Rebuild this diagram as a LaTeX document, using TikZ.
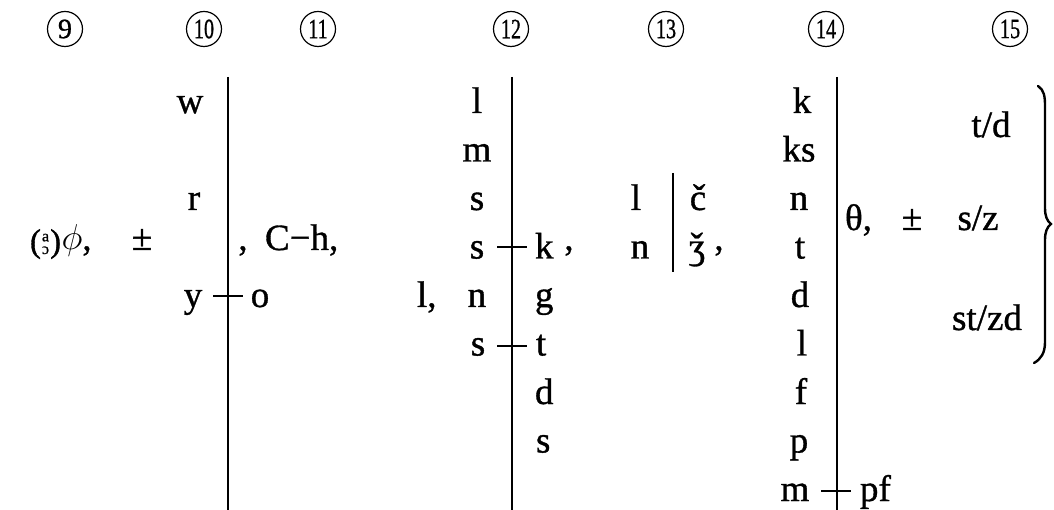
\documentclass[tikz,border=0pt]{standalone}
\usepackage{fix-cm}
\usepackage{fontspec}
\setmainfont{Liberation Serif}[FakeBold=0.9]
\begin{document}
\begin{tikzpicture}[x=1pt,y=-1pt,
  every node/.style={inner sep=0pt, outer sep=0pt},
  lbl/.style={anchor=base, font=\fontsize{37}{42}\selectfont},
  lblw/.style={anchor=base west, font=\fontsize{37}{42}\selectfont},
  num/.style={circle, draw, line width=1.2pt, minimum size=35pt, inner sep=0pt, font=\fontsize{28}{28}\selectfont},
  bar/.style={line width=2.8pt},
  tick/.style={line width=1.8pt},
  bracestyle/.style={line width=2.4pt, line cap=round}]
\useasboundingbox (0,0) rectangle (1054,510);
\fill[white] (0,0) rectangle (1054,510);
% circled numbers
\node[num] (n9)  at (65,29)  {9};
\node[num] (n10) at (204,29) {\scalebox{0.72}[1]{10}};
\node[num] (n11) at (318,29) {\scalebox{0.72}[1]{11}};
\node[num] (n12) at (511,29) {\scalebox{0.72}[1]{12}};
\node[num] (n13) at (666,29) {\scalebox{0.72}[1]{13}};
\node[num] (n14) at (826,29) {\scalebox{0.72}[1]{14}};
\node[num] (n15) at (1010,29) {\scalebox{0.72}[1]{15}};
% column 9
\node[anchor=base west, font=\fontsize{33}{34}\selectfont] (ao) at (30,252)
  {(\kern1pt\raisebox{-2pt}{\fontsize{16}{12}\selectfont\shortstack[c]{a\\[2pt]ɔ}}\kern1pt)};
\node[anchor=base, font=\fontsize{36}{40}\selectfont] (phi) at (72,250) {$\phi$};
\node[lbl] (c9) at (87,250) {,};
% column 10
\node[lbl] (pm10) at (142,250) {±};
\node[lbl] (w) at (190,113) {w};
\node[lbl] (r) at (194,210) {r};
\node[lbl] (y) at (193,307) {y};
\node[lbl] (o) at (260,307) {o};
\coordinate (v10t) at (228,77);
\coordinate (v10b) at (228,510);
\draw[bar] (v10t) -- (v10b);
\coordinate (x10a) at (213,296);
\coordinate (x10b) at (243,296);
\draw[tick] (x10a) -- (x10b);
\node[lbl] (c10) at (243,250) {,};
% column 11
\node[lblw] (ch) at (265,250) {C−h,};
% column 12
\node[lblw] (l12) at (417,307) {l,};
\node[lbl] (a0) at (477,113) {l};
\node[lbl] (a1) at (477,161.5) {m};
\node[lbl] (a2) at (477,210) {s};
\node[lbl] (a3) at (477,258.5) {s};
\node[lbl] (a4) at (477,307) {n};
\node[lbl] (a5) at (478,355.5) {s};
\node[lblw] (b3) at (535,258.5) {k};
\node[lblw] (b4) at (535,307) {g};
\node[lblw] (b5) at (536,355.5) {t};
\node[lblw] (b6) at (535,404) {d};
\node[lblw] (b7) at (536,452.5) {s};
\node[lbl] (c12) at (569,250) {,};
\coordinate (v12t) at (512,77);
\coordinate (v12b) at (512,510);
\draw[bar] (v12t) -- (v12b);
\coordinate (x12a) at (497,247);
\coordinate (x12b) at (527,247);
\draw[tick] (x12a) -- (x12b);
\coordinate (x12c) at (497,346);
\coordinate (x12d) at (527,346);
\draw[tick] (x12c) -- (x12d);
% column 13
\node[lbl] (d0) at (636,210) {l};
\node[lbl] (d1) at (640,258.5) {n};
\node[lbl] (e0) at (698,210) {č};
\node[lbl] (e1) at (697,258.5) {ǯ};
\node[lbl] (c13) at (719,250) {,};
\coordinate (v13t) at (673,173);
\coordinate (v13b) at (673,272);
\draw[bar] (v13t) -- (v13b);
% column 14
\node[lbl] (f0) at (802,113) {k};
\node[lbl] (f1) at (799,161.5) {ks};
\node[lbl] (f2) at (799,210) {n};
\node[lbl] (f3) at (800,258.5) {t};
\node[lbl] (f4) at (800,307) {d};
\node[lbl] (f5) at (802,355.5) {l};
\node[lbl] (f6) at (801,404) {f};
\node[lbl] (f7) at (799,452.5) {p};
\node[lbl] (f8) at (795,501) {m};
\node[lblw] (pf) at (860,501) {pf};
\coordinate (v14t) at (837,77);
\coordinate (v14b) at (837,510);
\draw[bar] (v14t) -- (v14b);
\coordinate (x14a) at (821,491);
\coordinate (x14b) at (851,491);
\draw[tick] (x14a) -- (x14b);
% column 15
\node[lblw] (th) at (845,230) {θ,};
\node[lbl] (pm15) at (912,230) {±};
\node[lbl] (g0) at (991,137) {t/d};
\node[lbl] (g1) at (978,230) {s/z};
\node[lbl] (g2) at (987,330) {st/zd};
\coordinate (bt) at (1038,86);
\coordinate (bm) at (1051,224);
\coordinate (bb) at (1034,363);
\draw[bracestyle] (bt) .. controls (1044,90) and (1045,96) .. (1045,106) -- (1045,208)
  .. controls (1045,216) and (1047,221) .. (bm)
  .. controls (1047,227) and (1045,232) .. (1045,240) -- (1045,342)
  .. controls (1045,353) and (1041,359) .. (bb);
\end{tikzpicture}
\end{document}
